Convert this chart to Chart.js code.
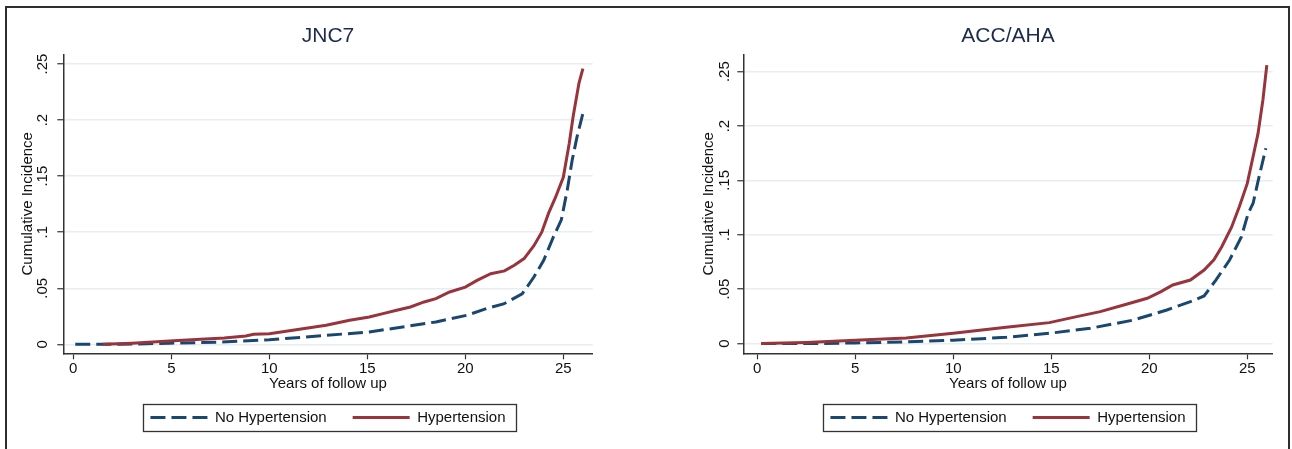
<!DOCTYPE html>
<html>
<head>
<meta charset="utf-8">
<script src="https://cdn.jsdelivr.net/npm/chart.js@4.4.1/dist/chart.umd.min.js"></script>
<style>
  html, body { margin: 0; padding: 0; background: #fff; overflow: hidden; }
  #frame { position: absolute; left: 5px; top: 6px; width: 1281px; height: 460px; border: 2px solid #2e2e2e; }
  canvas { position: absolute; top: 9px; }
  #jnc { left: 8px; }
  #acc { left: 688px; }
</style>
</head>
<body>
<div id="frame"></div>
<canvas id="jnc" width="620" height="426"></canvas>
<canvas id="acc" width="600" height="426"></canvas>
<script>
var xTicks = [0, 5, 10, 15, 20, 25];
var yTicks = [0, 0.05, 0.1, 0.15, 0.2, 0.25];
var yTickLabels = ["0", ".05", ".1", ".15", ".2", ".25"];

// JNC7 panel
var jncHtnYears = [1.5, 3, 4.9, 6.5, 7.7, 8.8, 9.2, 10, 11.2, 12.9, 14.1, 15.1, 15.8, 16.5, 17.2, 17.9, 18.5, 19.2, 20, 20.6, 21.3, 22, 22.5, 23, 23.5, 23.9, 24.25, 24.6, 25, 25.3, 25.5, 25.8, 26];
var jncHtn = [0, 0.001, 0.003, 0.0045, 0.0056, 0.0075, 0.009, 0.0095, 0.0125, 0.017, 0.0214, 0.0244, 0.0274, 0.0304, 0.0333, 0.0378, 0.0408, 0.0467, 0.051, 0.057, 0.063, 0.0655, 0.0705, 0.0765, 0.088, 0.1, 0.117, 0.131, 0.149, 0.179, 0.203, 0.233, 0.246];
var jncNoHtnYears = [0.1, 2.5, 4.9, 7.5, 10, 12.9, 15.1, 16.8, 18.5, 20.1, 21.1, 21.95, 22.9, 23.5, 24, 24.5, 24.9, 25.2, 25.45, 25.7, 26];
var jncNoHtn = [0, 0, 0.001, 0.002, 0.004, 0.008, 0.011, 0.0155, 0.02, 0.026, 0.032, 0.036, 0.045, 0.06, 0.075, 0.096, 0.111, 0.1375, 0.164, 0.185, 0.206];

// ACC/AHA panel
var accHtnYears = [0.2, 2.5, 5, 7.6, 10, 12.7, 14.9, 16.3, 17.5, 18.7, 19.9, 20.6, 21.2, 22.1, 22.8, 23.3, 23.7, 24.2, 24.6, 25, 25.3, 25.55, 25.8, 26];
var accHtn = [0, 0.001, 0.003, 0.005, 0.0094, 0.0149, 0.0192, 0.0247, 0.0293, 0.0354, 0.0416, 0.0477, 0.0538, 0.0584, 0.0676, 0.077, 0.089, 0.107, 0.126, 0.147, 0.172, 0.193, 0.224, 0.256];
var accNoHtnYears = [0.2, 3, 5, 7.5, 10, 12.7, 14.9, 17, 19.2, 20.9, 22.1, 22.8, 23.4, 24.1, 24.7, 25.05, 25.3, 25.6, 25.95];
var accNoHtn = [0, 0, 0.0005, 0.0015, 0.003, 0.0057, 0.0094, 0.014, 0.0216, 0.0308, 0.0385, 0.0437, 0.0584, 0.0768, 0.098, 0.1198, 0.129, 0.153, 0.1796];

Chart.defaults.font.family = "'Liberation Sans', Arial, sans-serif";
Chart.defaults.font.size = 15;
Chart.defaults.color = "#111";

function pts(xs, ys) {
    return xs.map(function (x, i) { return { x: x, y: ys[i] }; });
}

// legend samples take the dataset line style (dash, width), not the point's
function legendItems(chart) {
    var items = Chart.defaults.plugins.legend.labels.generateLabels(chart);
    items.forEach(function (it) {
        var ds = chart.data.datasets[it.datasetIndex];
        it.lineDash = ds.borderDash || [];
        it.strokeStyle = ds.borderColor;
        it.lineWidth = ds.borderWidth;
    });
    return items;
}

// box round the legend, like the Stata one
var legendFrame = {
    id: "legendFrame",
    afterDraw: function (chart) {
        var boxes = chart.legend.legendHitBoxes, ctx = chart.ctx;
        if (!boxes || !boxes.length) return;
        var last = boxes[boxes.length - 1];
        var l = Math.round(boxes[0].left - 7) + 0.5;
        var r = Math.round(last.left + last.width + 10) + 0.5;
        var t = Math.round(boxes[0].top - 6.3) + 0.5;
        var b = Math.round(boxes[0].top + boxes[0].height + 6.3) + 0.5;
        ctx.save();
        ctx.strokeStyle = "#333";
        ctx.lineWidth = 1.3;
        ctx.strokeRect(l, t, r - l, b - t);
        ctx.restore();
    },
};

function makeChart(id, p) {
    return new Chart(document.getElementById(id).getContext("2d"), {
        type: "line",
        data: {
            datasets: [
                {
                    label: "Hypertension",
                    data: pts(p.htnYears, p.htn),
                    borderColor: "#97343c",
                    borderWidth: 3,
                    pointRadius: 0,
                    tension: 0,
                    fill: false,
                },
                {
                    label: "No Hypertension",
                    data: pts(p.noHtnYears, p.noHtn),
                    borderColor: "#1a476f",
                    borderWidth: 3,
                    borderDash: [15, 6],
                    pointRadius: 0,
                    tension: 0,
                    fill: false,
                },
            ],
        },
        plugins: [legendFrame],
        options: {
            responsive: false,
            animation: false,
            layout: { padding: { left: 0, right: p.padRight, top: 0, bottom: 0 } },
            plugins: {
                title: {
                    display: true,
                    text: p.title,
                    fullSize: false,
                    color: "#1d2b4b",
                    font: { size: 21, weight: "normal" },
                    padding: { top: 14.4, bottom: 5.7 },
                },
                legend: {
                    position: "bottom",
                    fullSize: false,
                    reverse: true,
                    labels: {
                        usePointStyle: true,
                        pointStyle: "line",
                        pointStyleWidth: 57,
                        padding: 26,
                        color: "#111",
                        font: { size: 15 },
                        generateLabels: legendItems,
                    },
                },
                tooltip: { enabled: false },
            },
            scales: {
                x: {
                    type: "linear",
                    min: p.xMin,
                    max: p.xMax,
                    afterBuildTicks: function (s) {
                        s.ticks = xTicks.map(function (v) { return { value: v }; });
                    },
                    afterFit: function (s) { s.height = 30.7; },
                    ticks: {
                        padding: 0.9,
                        autoSkip: false,
                        maxRotation: 0,
                        color: "#111",
                        callback: function (v) { return String(v); },
                    },
                    grid: { drawOnChartArea: false, drawTicks: true, tickLength: 6, tickColor: "#333", tickWidth: 1.2 },
                    border: { display: true, color: "#333", width: 1.5 },
                    title: {
                        display: true,
                        text: "Years of follow up",
                        color: "#111",
                        font: { size: 15 },
                        padding: { top: 0, bottom: -8.5 },
                    },
                },
                y: {
                    min: p.yMin,
                    max: p.yMax,
                    afterBuildTicks: function (s) {
                        s.ticks = yTicks.map(function (v) { return { value: v }; });
                    },
                    afterFit: function (s) { s.width = 55.3; },
                    ticks: {
                        minRotation: 90,
                        maxRotation: 90,
                        crossAlign: "center",
                        padding: p.tickPad,
                        autoSkip: false,
                        color: "#111",
                        callback: function (v) { return yTickLabels[yTicks.indexOf(v)]; },
                    },
                    grid: { color: "#e6eef1", lineWidth: 1.5, drawTicks: true, tickLength: 6, tickColor: "#333", tickWidth: 1.2 },
                    border: { display: true, color: "#333", width: 1.5 },
                    title: {
                        display: true,
                        text: "Cumulative Incidence",
                        color: "#111",
                        font: { size: 15 },
                        padding: { top: p.titlePad, bottom: 0 },
                    },
                },
            },
        },
    });
}

var jncChart = makeChart("jnc", {
    title: "JNC7",
    htnYears: jncHtnYears, htn: jncHtn,
    noHtnYears: jncNoHtnYears, noHtn: jncNoHtn,
    xMin: -0.51, xMax: 26.5, yMin: -0.008, yMax: 0.2587,
    padRight: 35.3, tickPad: 3.85, titlePad: 11.3,
});

var accChart = makeChart("acc", {
    title: "ACC/AHA",
    htnYears: accHtnYears, htn: accHtn,
    noHtnYears: accNoHtnYears, noHtn: accNoHtn,
    xMin: -0.714, xMax: 26.3, yMin: -0.009, yMax: 0.266,
    padRight: 15.3, tickPad: 1.55, titlePad: 12.3,
});
</script>
</body>
</html>
